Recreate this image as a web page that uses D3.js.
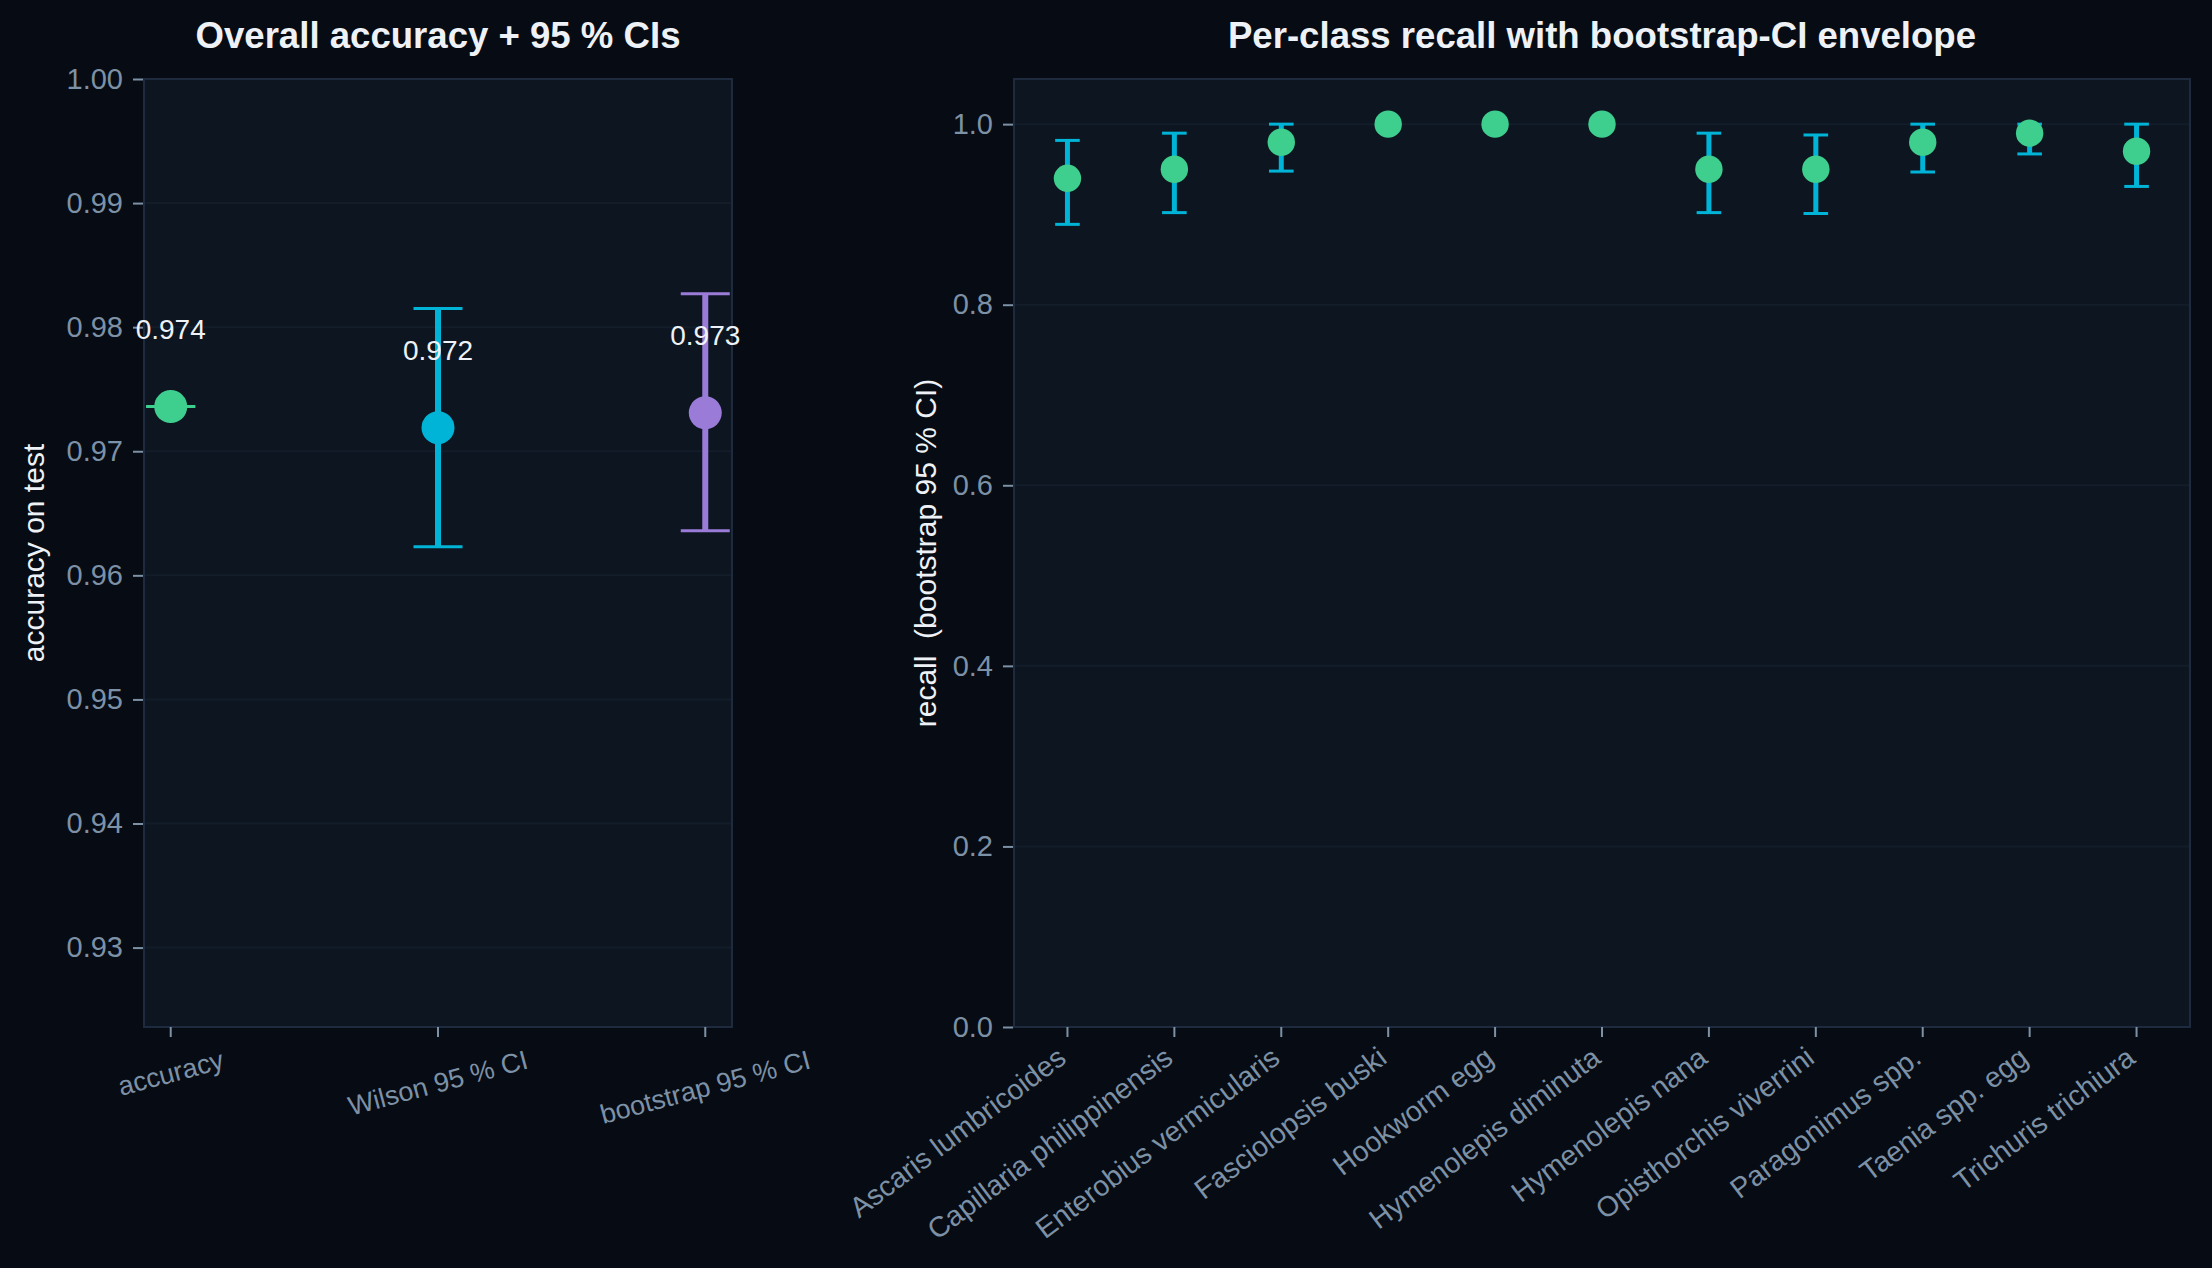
<!DOCTYPE html>
<html>
<head>
<meta charset="utf-8">
<script src="https://cdn.jsdelivr.net/npm/d3@7"></script>
<style>
  html, body { margin: 0; padding: 0; background: #070b13; }
  svg { display: block; font-family: "Liberation Sans", Arial, sans-serif; }
</style>
</head>
<body>
<svg id="chart" width="2212" height="1268"></svg>
<script>
// ---- data ----
const overallLabels = ["accuracy", "Wilson 95 % CI", "bootstrap 95 % CI"];
const overallValues = [0.9736, 0.9719, 0.9731];
const overallLow    = [0.9736, 0.9623, 0.9636];
const overallHigh   = [0.9736, 0.9815, 0.9827];
const overallTicks  = [0.93, 0.94, 0.95, 0.96, 0.97, 0.98, 0.99, 1.00];

const classes = ["Ascaris lumbricoides", "Capillaria philippinensis", "Enterobius vermicularis",
  "Fasciolopsis buski", "Hookworm egg", "Hymenolepis diminuta", "Hymenolepis nana",
  "Opisthorchis viverrini", "Paragonimus spp.", "Taenia spp. egg", "Trichuris trichiura"];
const recall     = [0.940, 0.950, 0.980, 1.000, 1.000, 1.000, 0.950, 0.950, 0.980, 0.990, 0.970];
const recallLow  = [0.889, 0.902, 0.948, 1.000, 1.000, 1.000, 0.902, 0.901, 0.947, 0.967, 0.931];
const recallHigh = [0.982, 0.990, 1.000, 1.000, 1.000, 1.000, 0.990, 0.988, 1.000, 1.000, 1.000];
const recallTicks = [0.0, 0.2, 0.4, 0.6, 0.8, 1.0];

// ---- style ----
const figBg = "#070b13", axBg = "#0c1520", spineCol = "#1e2b3e", gridCol = "#131d2a";
const tickCol = "#7d91a6", textCol = "#eef2f7";
const green = "#3ecf8e", cyan = "#00b4d8", purple = "#9b7bd8";
const overallColors = [green, cyan, purple];

const svg = d3.select("#chart");
svg.append("rect").attr("width", 2212).attr("height", 1268).attr("fill", figBg);

const plotTop = 79, plotBottom = 1027;

function frame(x0, x1, y, ticks, fmt, title, ylabel, ylabelX) {
  const g = svg.append("g");
  g.append("rect").attr("x", x0).attr("y", plotTop).attr("width", x1 - x0).attr("height", plotBottom - plotTop)
    .attr("fill", axBg);
  // grid
  g.selectAll("line.grid").data(ticks).enter().append("line")
    .attr("x1", x0).attr("x2", x1).attr("y1", d => y(d)).attr("y2", d => y(d))
    .attr("stroke", gridCol).attr("stroke-width", 2);
  g.append("rect").attr("x", x0).attr("y", plotTop).attr("width", x1 - x0).attr("height", plotBottom - plotTop)
    .attr("fill", "none").attr("stroke", spineCol).attr("stroke-width", 2);
  // y axis
  const ax = g.append("g").attr("transform", `translate(${x0 - 1},0)`)
    .call(d3.axisLeft(y).tickValues(ticks).tickFormat(fmt).tickSize(10).tickPadding(10));
  ax.select(".domain").remove();
  ax.selectAll(".tick line").attr("stroke", tickCol).attr("stroke-width", 2);
  ax.selectAll(".tick text").attr("fill", tickCol).style("font-size", "29px")
    .style("font-family", "'Liberation Sans', Arial, sans-serif");
  // title
  svg.append("text").attr("x", (x0 + x1) / 2).attr("y", 48).attr("text-anchor", "middle")
    .attr("fill", textCol).style("font-size", "36.6px").style("font-weight", "bold").text(title);
  svg.append("text").attr("transform", `translate(${ylabelX},${(plotTop + plotBottom) / 2}) rotate(-90)`)
    .attr("text-anchor", "middle").attr("dominant-baseline", "central")
    .style("white-space", "pre")
    .attr("fill", textCol).style("font-size", "30px").text(ylabel);
  return g;
}

// ---- left panel: overall accuracy ----
// matplotlib-style margins: 5 % of the span on each side of the 3 points
const xLeft = d3.scaleLinear().domain([-0.1, 2.1]).range([144, 732]);
const yL = d3.scaleLinear().domain([0.9236, 1.0]).range([plotBottom, plotTop]);
const gL = frame(144, 732, yL, overallTicks, d3.format(".2f"),
  "Overall accuracy + 95 % CIs", "accuracy on test", 33);

const left = overallLabels.map((lab, i) => ({lab, i, v: overallValues[i], lo: overallLow[i], hi: overallHigh[i], c: overallColors[i]}));

// x ticks + rotated labels
left.forEach(d => {
  const tx = xLeft(d.i);
  gL.append("line").attr("x1", tx).attr("x2", tx).attr("y1", plotBottom).attr("y2", plotBottom + 10)
    .attr("stroke", tickCol).attr("stroke-width", 2);
  const t = gL.append("text").attr("text-anchor", "middle").attr("dominant-baseline", "central")
    .attr("fill", tickCol).style("font-size", "27px").text(d.lab);
  const L = t.node().getComputedTextLength();
  const a = 15 * Math.PI / 180, h = 27 * 1.1;
  const yc = plotBottom + 18 + (L * Math.sin(a) + h * Math.cos(a)) / 2;
  t.attr("transform", `translate(${tx},${yc}) rotate(-15)`);
});

// error bars
gL.selectAll("line.err").data(left).enter().append("line")
  .attr("x1", d => xLeft(d.i)).attr("x2", d => xLeft(d.i))
  .attr("y1", d => yL(d.lo)).attr("y2", d => yL(d.hi))
  .attr("stroke", d => d.c).attr("stroke-width", 6);
["lo", "hi"].forEach(k => {
  gL.selectAll("line.cap" + k).data(left).enter().append("line")
    .attr("x1", d => xLeft(d.i) - 24.5).attr("x2", d => xLeft(d.i) + 24.5)
    .attr("y1", d => yL(d[k])).attr("y2", d => yL(d[k]))
    .attr("stroke", d => d.c).attr("stroke-width", 3);
});
gL.selectAll("circle.pt").data(left).enter().append("circle")
  .attr("cx", d => xLeft(d.i)).attr("cy", d => yL(d.v)).attr("r", 16.5).attr("fill", d => d.c);
gL.selectAll("text.ann").data(left).enter().append("text")
  .attr("x", d => xLeft(d.i)).attr("y", d => yL(d.v) - 68).attr("text-anchor", "middle")
  .attr("fill", textCol).style("font-size", "28px").text(d => d3.format(".3f")(d.v));

// ---- right panel: per-class recall ----
const xR = d3.scalePoint().domain(classes).range([1014, 2190]).padding(0.5);
const yR = d3.scaleLinear().domain([0, 1.05]).range([plotBottom, plotTop]);
const gR = frame(1014, 2190, yR, recallTicks, d3.format(".1f"),
  "Per-class recall with bootstrap-CI envelope", "recall  (bootstrap 95 % CI)", 925);

const right = classes.map((c, i) => ({c, v: recall[i], lo: recallLow[i], hi: recallHigh[i]}));

right.forEach(d => {
  const tx = xR(d.c);
  gR.append("line").attr("x1", tx).attr("x2", tx).attr("y1", plotBottom).attr("y2", plotBottom + 10)
    .attr("stroke", tickCol).attr("stroke-width", 2);
  gR.append("text").attr("text-anchor", "end")
    .attr("transform", `translate(${tx - 12},${plotBottom + 18}) rotate(-37)`)
    .attr("dy", "0.72em")
    .attr("fill", tickCol).style("font-size", "28.5px").text(d.c);
});

gR.selectAll("line.err").data(right).enter().append("line")
  .attr("x1", d => xR(d.c)).attr("x2", d => xR(d.c))
  .attr("y1", d => yR(d.lo)).attr("y2", d => yR(d.hi))
  .attr("stroke", cyan).attr("stroke-width", 5);
["lo", "hi"].forEach(k => {
  gR.selectAll("line.cap" + k).data(right).enter().append("line")
    .attr("x1", d => xR(d.c) - 12.3).attr("x2", d => xR(d.c) + 12.3)
    .attr("y1", d => yR(d[k])).attr("y2", d => yR(d[k]))
    .attr("stroke", cyan).attr("stroke-width", 3);
});
gR.selectAll("circle.pt").data(right).enter().append("circle")
  .attr("cx", d => xR(d.c)).attr("cy", d => yR(d.v)).attr("r", 13.7).attr("fill", green);
</script>
</body>
</html>
